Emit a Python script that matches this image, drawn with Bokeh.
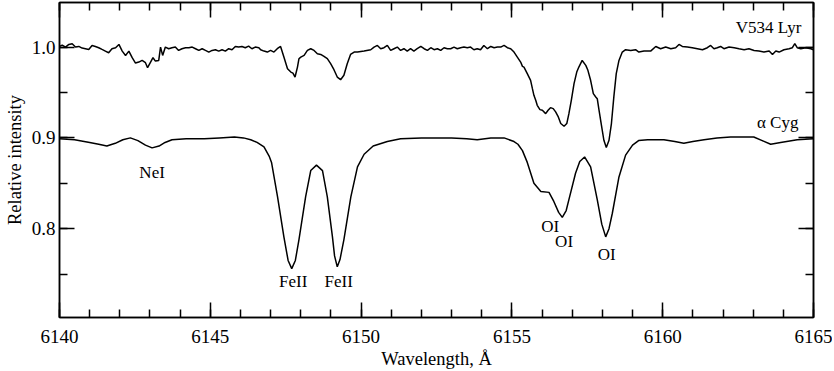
from bokeh.plotting import figure
from bokeh.models import Range1d, LinearAxis, FixedTicker
from bokeh.core.properties import value
from bokeh.embed import file_html
from bokeh.resources import INLINE

# ---- data ----
cyg_wave = [6140.00, 6140.50, 6141.00, 6141.30, 6141.57, 6141.85, 6142.10, 6142.35, 6142.60, 6142.85,
            6143.07, 6143.30, 6143.50, 6143.73, 6144.20, 6144.80, 6145.30, 6145.80, 6146.10, 6146.34,
            6146.55, 6146.78, 6146.95, 6147.03, 6147.23, 6147.44, 6147.58, 6147.70, 6147.82, 6147.94,
            6148.16, 6148.33, 6148.52, 6148.72, 6148.88, 6149.05, 6149.12, 6149.21, 6149.30, 6149.43,
            6149.66, 6149.88, 6150.10, 6150.40, 6150.87, 6151.31, 6152.00, 6152.50, 6153.00, 6153.50,
            6153.85, 6154.30, 6154.74, 6155.07, 6155.20, 6155.35, 6155.51, 6155.73, 6155.96, 6156.23,
            6156.39, 6156.55, 6156.67, 6156.80, 6156.89, 6157.11, 6157.25, 6157.41, 6157.61, 6157.83,
            6157.98, 6158.11, 6158.22, 6158.33, 6158.55, 6158.77, 6159.00, 6159.20, 6159.50, 6160.04,
            6160.40, 6160.70, 6161.00, 6161.37, 6161.80, 6162.25, 6162.70, 6163.02, 6163.30, 6163.58,
            6163.91, 6164.46, 6165.00]
cyg_flux = [0.899, 0.898, 0.895, 0.893, 0.891, 0.894, 0.898, 0.900, 0.897, 0.892,
            0.889, 0.891, 0.895, 0.898, 0.899, 0.899, 0.900, 0.901, 0.900, 0.898,
            0.895, 0.890, 0.880, 0.873, 0.835, 0.791, 0.765, 0.756, 0.765, 0.788,
            0.835, 0.864, 0.870, 0.864, 0.835, 0.791, 0.770, 0.758, 0.766, 0.788,
            0.835, 0.868, 0.882, 0.891, 0.896, 0.899, 0.900, 0.900, 0.900, 0.899,
            0.898, 0.900, 0.900, 0.896, 0.893, 0.886, 0.873, 0.850, 0.841, 0.840,
            0.830, 0.818, 0.8125, 0.820, 0.832, 0.861, 0.874, 0.879, 0.868, 0.832,
            0.805, 0.791, 0.800, 0.817, 0.857, 0.881, 0.892, 0.897, 0.898, 0.898,
            0.896, 0.894, 0.896, 0.898, 0.900, 0.901, 0.901, 0.901, 0.897, 0.893,
            0.895, 0.898, 0.899]

lyr_wave = [6140.00, 6140.09, 6140.20, 6140.31, 6140.42, 6140.53, 6140.64, 6140.75, 6140.86, 6140.97,
            6141.08, 6141.19, 6141.30, 6141.41, 6141.52, 6141.63, 6141.74, 6141.86, 6141.97, 6142.08,
            6142.19, 6142.30, 6142.41, 6142.52, 6142.63, 6142.74, 6142.85, 6142.92, 6143.02, 6143.10,
            6143.18, 6143.29, 6143.35, 6143.42, 6143.51, 6143.62, 6143.73, 6143.84, 6143.95, 6144.06,
            6144.18, 6144.29, 6144.40, 6144.51, 6144.62, 6144.73, 6144.84, 6144.95, 6145.06, 6145.17,
            6145.28, 6145.39, 6145.50, 6145.61, 6145.72, 6145.83, 6145.94, 6146.05, 6146.16, 6146.27,
            6146.38, 6146.49, 6146.61,
            6146.67, 6146.78, 6146.89, 6147.00, 6147.11, 6147.22, 6147.33, 6147.44, 6147.56, 6147.67,
            6147.74, 6147.81, 6147.89, 6147.94, 6148.00, 6148.11, 6148.22, 6148.33, 6148.44, 6148.55,
            6148.66, 6148.77, 6148.88, 6148.99, 6149.10, 6149.21, 6149.32, 6149.43, 6149.54, 6149.65,
            6149.77, 6149.88, 6150.10, 6150.32, 6150.43, 6150.54, 6150.65, 6150.76, 6150.87, 6150.98,
            6151.09, 6151.20, 6151.31, 6151.42, 6151.53, 6151.64, 6151.75, 6151.86, 6151.98, 6152.09,
            6152.20, 6152.31, 6152.42, 6152.53, 6152.64, 6152.75, 6152.86,
            6152.97, 6153.08, 6153.19, 6153.30, 6153.41, 6153.52, 6153.63, 6153.74, 6153.85, 6153.96,
            6154.07, 6154.19, 6154.30, 6154.41, 6154.52, 6154.63, 6154.74, 6154.85, 6154.96, 6155.07,
            6155.18, 6155.29, 6155.35, 6155.40, 6155.51, 6155.62, 6155.68, 6155.73, 6155.79, 6155.84,
            6155.93, 6156.01, 6156.12, 6156.20, 6156.28, 6156.37, 6156.45, 6156.53, 6156.62, 6156.73,
            6156.82, 6156.89, 6156.97, 6157.06, 6157.15, 6157.22, 6157.33, 6157.45, 6157.52, 6157.61,
            6157.70, 6157.78, 6157.83, 6157.89, 6157.96, 6158.05, 6158.13, 6158.22, 6158.30, 6158.38,
            6158.46, 6158.55, 6158.66, 6158.77, 6158.94, 6159.10, 6159.21, 6159.38, 6159.60,
            6159.77, 6159.93, 6160.10, 6160.27, 6160.43, 6160.54, 6160.65, 6160.82, 6160.98, 6161.15,
            6161.32, 6161.48, 6161.59, 6161.70, 6161.81, 6161.92, 6162.03, 6162.20, 6162.37, 6162.53,
            6162.70, 6162.86, 6163.03, 6163.19, 6163.36, 6163.53, 6163.64, 6163.75, 6163.86, 6164.02,
            6164.19, 6164.30, 6164.38, 6164.46, 6164.58, 6164.74, 6164.91, 6165.00]
lyr_flux = [1.0007, 1.0022, 1.0000, 1.0029, 1.0037, 1.0000, 1.0007, 0.9989, 0.9982, 0.9974,
            1.0018, 1.0007, 0.9993, 0.9974, 0.9956, 0.9938, 0.9982, 0.9993, 1.0029, 0.9956,
            0.9908, 0.9956, 0.9883, 0.9824, 0.9835, 0.9853, 0.9828, 0.9773, 0.9835, 0.9883,
            0.9846, 0.9853, 1.0000, 0.9908, 1.0000, 0.9982, 0.9993, 1.0000, 0.9963, 0.9982,
            0.9993, 0.9993, 1.0000, 0.9982, 0.9963, 0.9982, 0.9963, 0.9945, 0.9963, 0.9971,
            0.9956, 0.9971, 0.9956, 0.9982, 0.9971, 1.0007, 1.0000, 1.0007, 0.9993, 1.0011,
            0.9982, 1.0000, 0.9993,
            0.9971, 0.9956, 0.9945, 0.9963, 0.9945, 0.9982, 1.0007, 0.9890, 0.9762, 0.9725,
            0.9714, 0.9670, 0.9780, 0.9872, 0.9890, 0.9908, 0.9963, 0.9982, 0.9963, 0.9927,
            0.9919, 0.9897, 0.9872, 0.9817, 0.9751, 0.9670, 0.9641, 0.9689, 0.9817, 0.9919,
            0.9945, 0.9945, 0.9956, 0.9971, 1.0000, 1.0018, 0.9982, 0.9993, 1.0018, 0.9963,
            0.9982, 1.0000, 0.9963, 0.9982, 0.9956, 0.9982, 0.9956, 0.9982, 1.0007, 0.9982,
            0.9963, 0.9993, 0.9971, 0.9982, 0.9963, 0.9993, 0.9982,
            0.9982, 1.0000, 0.9982, 0.9993, 1.0000, 0.9993, 1.0000, 0.9971, 0.9982, 0.9971,
            1.0018, 0.9982, 1.0007, 0.9993, 1.0000, 1.0000, 1.0018, 0.9993, 0.9982, 0.9945,
            0.9890, 0.9835, 0.9788, 0.9780, 0.9707, 0.9634, 0.9542, 0.9469, 0.9414, 0.9359,
            0.9311, 0.9304, 0.9267, 0.9304, 0.9333, 0.9322, 0.9286, 0.9238, 0.9158, 0.9128,
            0.9158, 0.9267, 0.9414, 0.9597, 0.9725, 0.9780, 0.9853, 0.9799, 0.9744, 0.9634,
            0.9487, 0.9451, 0.9432, 0.9304, 0.9158, 0.8974, 0.8894, 0.8974, 0.9158, 0.9451,
            0.9707, 0.9853, 0.9945, 0.9971, 0.9963, 0.9971, 0.9945, 0.9956, 0.9956,
            1.0007, 0.9982, 1.0000, 0.9982, 0.9993, 1.0029, 1.0007, 1.0000, 0.9993, 0.9982,
            0.9971, 0.9993, 1.0018, 0.9982, 0.9993, 1.0007, 0.9982, 1.0000, 0.9993, 0.9982,
            0.9971, 0.9982, 0.9963, 0.9956, 0.9945, 0.9956, 0.9919, 0.9956, 0.9945, 0.9971,
            0.9982, 0.9993, 1.0037, 0.9993, 0.9982, 0.9993, 0.9982, 0.9971]

line_labels = ["NeI", "FeII", "FeII", "OI", "OI", "OI"]
line_label_x = [6143.07, 6147.75, 6149.26, 6156.27, 6156.73, 6158.14]
line_label_y = [0.862, 0.742, 0.742, 0.802, 0.786, 0.772]

star_names = ["V534 Lyr", "\u03b1 Cyg"]
star_name_x = [6164.6, 6164.5]
star_name_y = [1.022, 0.917]

x_major = [6140, 6145, 6150, 6155, 6160, 6165]
x_minor = [6140 + i for i in range(26)]
y_major = [0.8, 0.9, 1.0]
y_minor = [0.75, 0.8, 0.85, 0.9, 0.95, 1.0]

FONT = "Liberation Serif"

p = figure(width=832, height=371, output_backend="svg", toolbar_location=None,
           x_range=Range1d(6140, 6165), y_range=Range1d(0.7022, 1.0491),
           min_border_left=59, min_border_right=19, min_border_top=2, min_border_bottom=53)
p.grid.visible = False
p.outline_line_color = "black"
p.outline_line_width = 1.5
p.background_fill_color = "white"
p.border_fill_color = "white"

xt = FixedTicker(ticks=x_major, minor_ticks=x_minor)
yt = FixedTicker(ticks=y_major, minor_ticks=y_minor)

bottom = p.below[0]
left = p.left[0]
bottom.ticker = xt
left.ticker = yt
bottom.axis_label = "Wavelength, \u00c5"
left.axis_label = "Relative intensity"
left.major_label_overrides = {0.8: "0.8", 0.9: "0.9", 1.0: "1.0"}

top = LinearAxis(ticker=xt)
right = LinearAxis(ticker=yt)
p.add_layout(top, "above")
p.add_layout(right, "right")

for ax in [bottom, left, top, right]:
    ax.axis_line_color = "black"
    ax.axis_line_width = 1.5
    ax.major_tick_line_color = "black"
    ax.major_tick_line_width = 1.5
    ax.minor_tick_line_color = "black"
    ax.minor_tick_line_width = 1.5
    ax.major_tick_in = 15
    ax.major_tick_out = 0
    ax.minor_tick_in = 8
    ax.minor_tick_out = 0
    ax.major_label_text_font = FONT
    ax.axis_label_text_font = FONT
    ax.axis_label_text_font_style = "normal"
    ax.axis_label_text_color = "black"

for ax in [top, right]:
    ax.major_label_text_font_size = "1px"
    ax.major_label_text_color = None
    ax.major_label_standoff = 0

for ax in [bottom, left]:
    ax.major_label_text_color = "black"
    ax.major_label_text_font_size = "19px"
    ax.axis_label_text_font_size = "18.5px"

bottom.major_label_standoff = 12
bottom.axis_label_standoff = 3
left.major_label_standoff = 4
left.axis_label_standoff = 4

p.line(lyr_wave, lyr_flux, line_color="black", line_width=1.5)
p.line(cyg_wave, cyg_flux, line_color="black", line_width=1.5)

p.text(x=line_label_x, y=line_label_y, text=line_labels, text_font=value(FONT),
       text_font_size="17px", text_align="center", text_baseline="middle", text_color="black")
p.text(x=star_name_x, y=star_name_y, text=star_names, text_font=value(FONT),
       text_font_size="17px", text_align="right", text_baseline="middle", text_color="black")

open("out.html", "w").write(file_html(p, INLINE))
